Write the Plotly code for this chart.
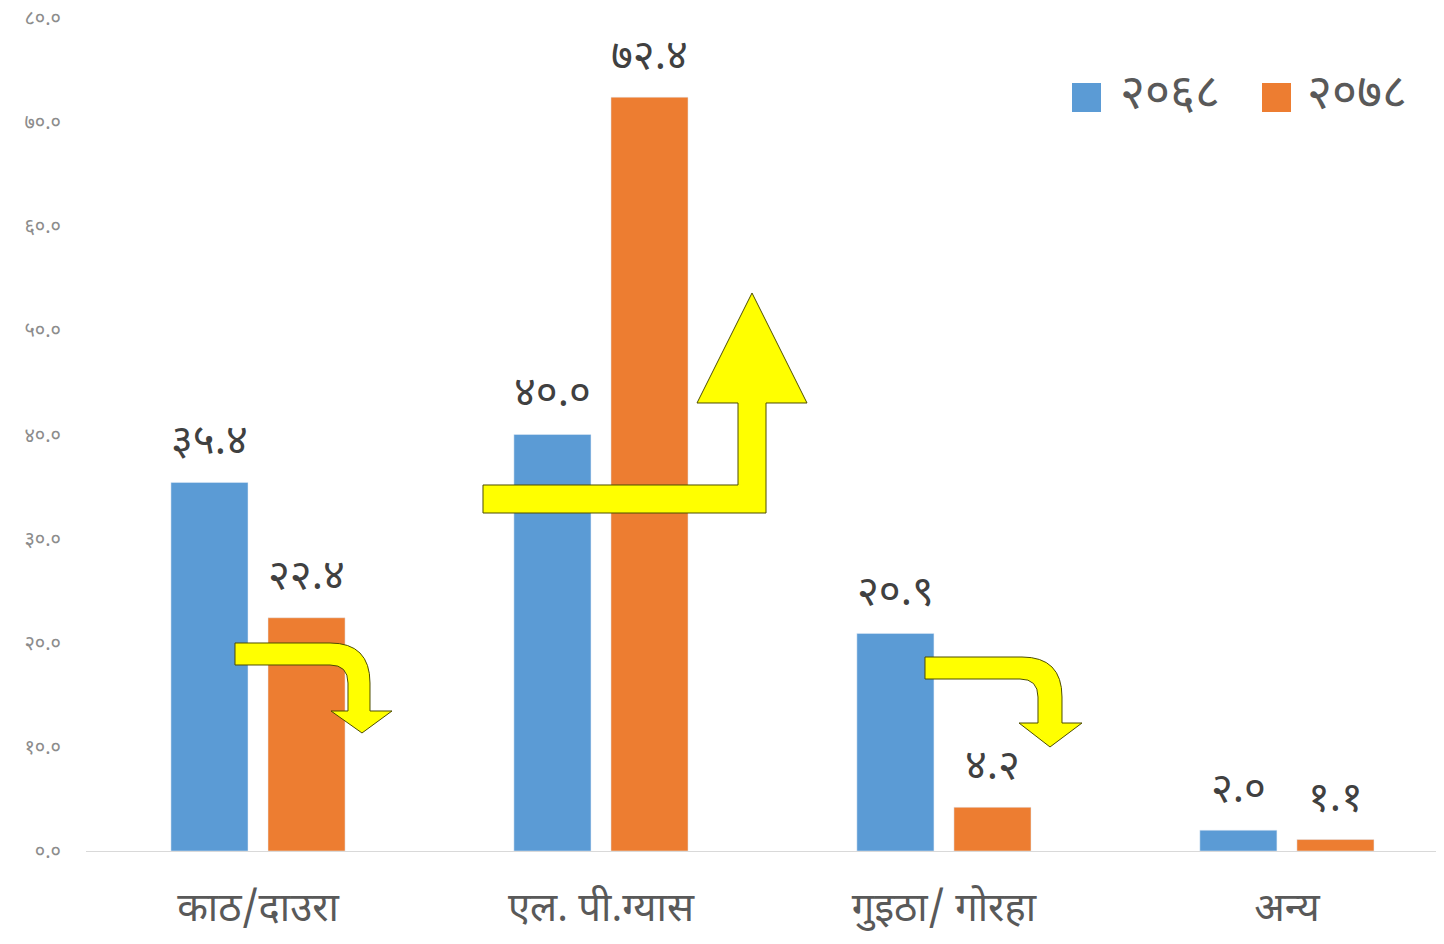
import plotly.graph_objects as go

# ---------------- data ----------------
categories = ['काठ/दाउरा', 'एल. पी.ग्यास', 'गुइठा/ गोरहा', 'अन्य']
series_names = ['२०६८', '२०७८']
values_2068 = [35.4, 40.0, 20.9, 2.0]
values_2078 = [22.4, 72.4, 4.2, 1.1]
y_ticks = [0, 10, 20, 30, 40, 50, 60, 70, 80]

colors = ['#5b9bd5', '#ed7d31']

DEV = str.maketrans('0123456789', '०१२३४५६७८९')


def dev(v):
    return f'{v:.1f}'.translate(DEV)


# ---------------- layout constants ----------------
OFF = 8                      # page body margin
W, H = 1436, 936
ML, MR, MT, MB = 78, 0, 10, 93
PW, PH = W - ML - MR, H - MT - MB
BARGAP, BARGROUPGAP = 0.434, 0.206
XR = [-0.5015, 3.458]
FONT = 'Noto Sans Devanagari, Mangal, Nirmala UI, Noto Sans, sans-serif'


def px(x, y):
    """page pixel position -> paper coordinates"""
    return (x - OFF - ML) / PW, (H - MB - (y - OFF)) / PH


def path_from(points):
    segs = []
    for cmd, pts in points:
        if cmd == 'Q':
            (a, b), (c, d) = pts
            p1, p2 = px(a, b), px(c, d)
            segs.append(f'Q{p1[0]:.5f},{p1[1]:.5f} {p2[0]:.5f},{p2[1]:.5f}')
        else:
            for i, (a, b) in enumerate(pts):
                p = px(a, b)
                segs.append(f'{cmd if i == 0 else "L"}{p[0]:.5f},{p[1]:.5f}')
    return ' '.join(segs) + ' Z'


xs = list(range(len(categories)))
fig = go.Figure()
for name, vals, col in zip(series_names, [values_2068, values_2078], colors):
    fig.add_trace(go.Bar(x=xs, y=vals, name=name, marker_color=col,
                         showlegend=False))

# data labels
slot = (1 - BARGAP) / 2
for k, vals in enumerate([values_2068, values_2078]):
    off = (k - 0.5) * slot
    for i, v in enumerate(vals):
        fig.add_annotation(x=i + off, y=v, text=dev(v), showarrow=False,
                           yanchor='middle', yshift=39,
                           font=dict(size=42, color='#404040', family=FONT))

# yellow arrows (decoration)
arrow_style = dict(type='path', xref='paper', yref='paper',
                   fillcolor='#ffff00', line=dict(color='#4d4d00', width=1),
                   layer='above')
arrow1 = [('M', [(235, 643)]), ('L', [(330, 643)]), ('Q', [(370, 643), (370, 683)]),
          ('L', [(370, 711), (392, 711), (362, 733), (331, 711), (348, 711), (348, 683)]),
          ('Q', [(348, 665), (330, 665)]), ('L', [(235, 665)])]
arrow2 = [('M', [(483, 485)]),
          ('L', [(738, 485), (738, 403), (697, 403), (752, 293), (807, 403),
                 (766, 403), (766, 513), (483, 513)])]
arrow3 = [('M', [(925, 657)]), ('L', [(1022, 657)]), ('Q', [(1062, 657), (1062, 697)]),
          ('L', [(1062, 723), (1082, 723), (1050, 747), (1019, 723), (1038, 723), (1038, 697)]),
          ('Q', [(1038, 679), (1020, 679)]), ('L', [(925, 679)])]
for a in (arrow1, arrow2, arrow3):
    fig.add_shape(path=path_from(a), **arrow_style)

# legend (drawn manually for large swatches)
leg = [(1072, 1118), (1262, 1305)]
for (sx, tx), name, col in zip(leg, series_names, colors):
    x0, y0 = px(sx, 112)
    x1, y1 = px(sx + 29, 83)
    fig.add_shape(type='rect', xref='paper', yref='paper', x0=x0, y0=y0, x1=x1, y1=y1,
                  fillcolor=col, line=dict(width=0))
    tx_, ty_ = px(tx, 97)
    fig.add_annotation(xref='paper', yref='paper', x=tx_, y=ty_, text=name,
                       showarrow=False, xanchor='left', yanchor='middle',
                       font=dict(size=48, color='#595959', family=FONT))

fig.update_layout(
    width=W, height=H,
    margin=dict(l=ML, r=MR, t=MT, b=MB, autoexpand=False),
    paper_bgcolor='white', plot_bgcolor='white',
    barmode='group', bargap=BARGAP, bargroupgap=BARGROUPGAP,
    font=dict(family=FONT),
    xaxis=dict(range=XR, tickvals=xs, ticktext=categories, showgrid=False,
               zeroline=False, showline=True, linecolor='#d9d9d9', linewidth=1,
               ticks='', ticklabelstandoff=21, automargin=False,
               tickfont=dict(size=40, color='#595959', family=FONT)),
    yaxis=dict(range=[0, 80], tickvals=y_ticks, ticktext=[dev(t) for t in y_ticks],
               showgrid=False, zeroline=False, showline=False, ticks='',
               ticklabelstandoff=24, automargin=False, ticklabeloverflow='allow',
               tickfont=dict(size=20, color='#8c8c8c', family=FONT)),
)

fig.write_html('out.html')
